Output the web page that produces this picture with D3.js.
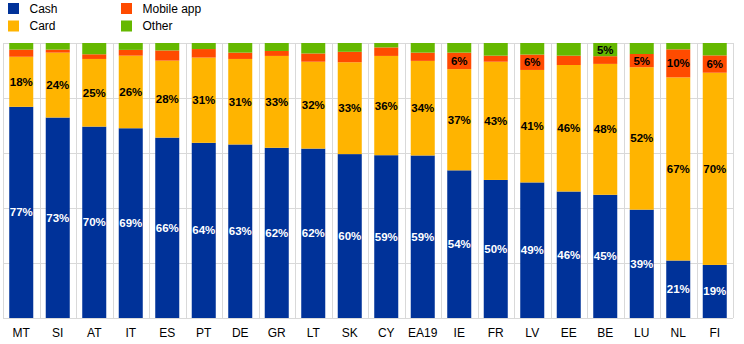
<!DOCTYPE html>
<html><head><meta charset="utf-8">
<script src="https://cdn.jsdelivr.net/npm/d3@7/dist/d3.min.js"></script>
<style>body{margin:0;background:#fff}svg{display:block;font-family:"Liberation Sans",Arial,sans-serif}</style>
</head><body><svg id="c" width="744" height="344"></svg>
<script>
const countries = ["MT","SI","AT","IT","ES","PT","DE","GR","LT","SK","CY","EA19","IE","FR","LV","EE","BE","LU","NL","FI"];
const cash   = [76.8,72.9,69.6,69.0,65.6,63.7,63.1,61.9,61.6,59.6,59.2,59.1,53.7,50.2,49.3,46.0,44.8,39.4,20.9,19.3];
const card   = [18.2,23.6,24.6,26.4,28.0,31.0,31.1,33.4,31.6,33.4,36.1,34.4,36.8,43.0,40.9,46.0,47.6,51.8,66.6,69.9];
const mobile = [2.6,1.1,1.7,2.1,3.7,3.1,2.3,1.8,3.0,3.8,3.1,3.0,6.0,2.2,5.6,3.4,2.8,4.8,10.2,6.3];
const other  = [2.4,2.4,4.1,2.5,2.7,2.2,3.5,2.9,3.8,3.2,1.6,3.5,3.5,4.6,4.2,4.6,4.8,4.0,2.3,4.5];
const seriesNames = ["Cash","Card","Mobile app","Other"];
const colors = ["#003299","#FFB400","#FF4B00","#65B800"];
const labelColors = ["#fff","#000","#000","#000"];
const yTicks = [0,20,40,60,80,100];

const rows = countries.map((c,i)=>({c, Cash:cash[i], Card:card[i], "Mobile app":mobile[i], Other:other[i]}));
const stack = d3.stack().keys(seriesNames)(rows);

const svg = d3.select("#c");
const x = d3.scaleBand().domain(countries).range([3,733]).paddingInner(0.342).paddingOuter(0.171);
const y = d3.scaleLinear().domain([0,100]).range([318,43]);

// grid
const g = svg.append("g");
g.selectAll("line.h").data(yTicks).join("line")
  .attr("x1",3).attr("x2",733).attr("y1",d=>y(d)+0.5).attr("y2",d=>y(d)+0.5)
  .attr("stroke","#d9d9d9").attr("stroke-width",1);
const bounds = d3.range(countries.length+1).map(i=>x.range()[0]+i*x.step());
g.selectAll("line.v").data(bounds).join("line")
  .attr("x1",d=>Math.round(d)+0.5).attr("x2",d=>Math.round(d)+0.5).attr("y1",y(100)).attr("y2",y(0))
  .attr("stroke","#d9d9d9").attr("stroke-width",1);

// bars
stack.forEach((s,si)=>{
  svg.append("g").selectAll("rect").data(s).join("rect")
    .attr("x",d=>x(d.data.c)).attr("width",x.bandwidth())
    .attr("y",d=>y(d[1])).attr("height",d=>y(d[0])-y(d[1]))
    .attr("fill",colors[si]);
});
// labels
stack.forEach((s,si)=>{
  svg.append("g").selectAll("text").data(s.filter(d=>d[1]-d[0]>=4.75)).join("text")
    .attr("x",d=>x(d.data.c)+x.bandwidth()/2)
    .attr("y",d=>(y(d[0])+y(d[1]))/2)
    .attr("dy","0.35em").attr("text-anchor","middle")
    .attr("font-size",11.5).attr("font-weight","bold").attr("fill",labelColors[si])
    .text(d=>Math.round(d[1]-d[0])+"%");
});

// x axis labels
svg.append("g").selectAll("text").data(countries).join("text")
  .attr("x",d=>x(d)+x.bandwidth()/2).attr("y",337)
  .attr("text-anchor","middle").attr("font-size",12).attr("fill","#000").text(d=>d);

// legend
const leg = [{n:"Cash",x:8,y:3},{n:"Card",x:8,y:20.5},{n:"Mobile app",x:121,y:3},{n:"Other",x:121,y:20.5}];
const lg = svg.append("g");
leg.forEach(l=>{
  const i = seriesNames.indexOf(l.n);
  lg.append("rect").attr("x",l.x).attr("y",l.y).attr("width",11).attr("height",11).attr("fill",colors[i]);
  lg.append("text").attr("x",l.x+21.5).attr("y",l.y+9.8).attr("font-size",12).attr("fill","#000").text(l.n);
});
</script></body></html>
